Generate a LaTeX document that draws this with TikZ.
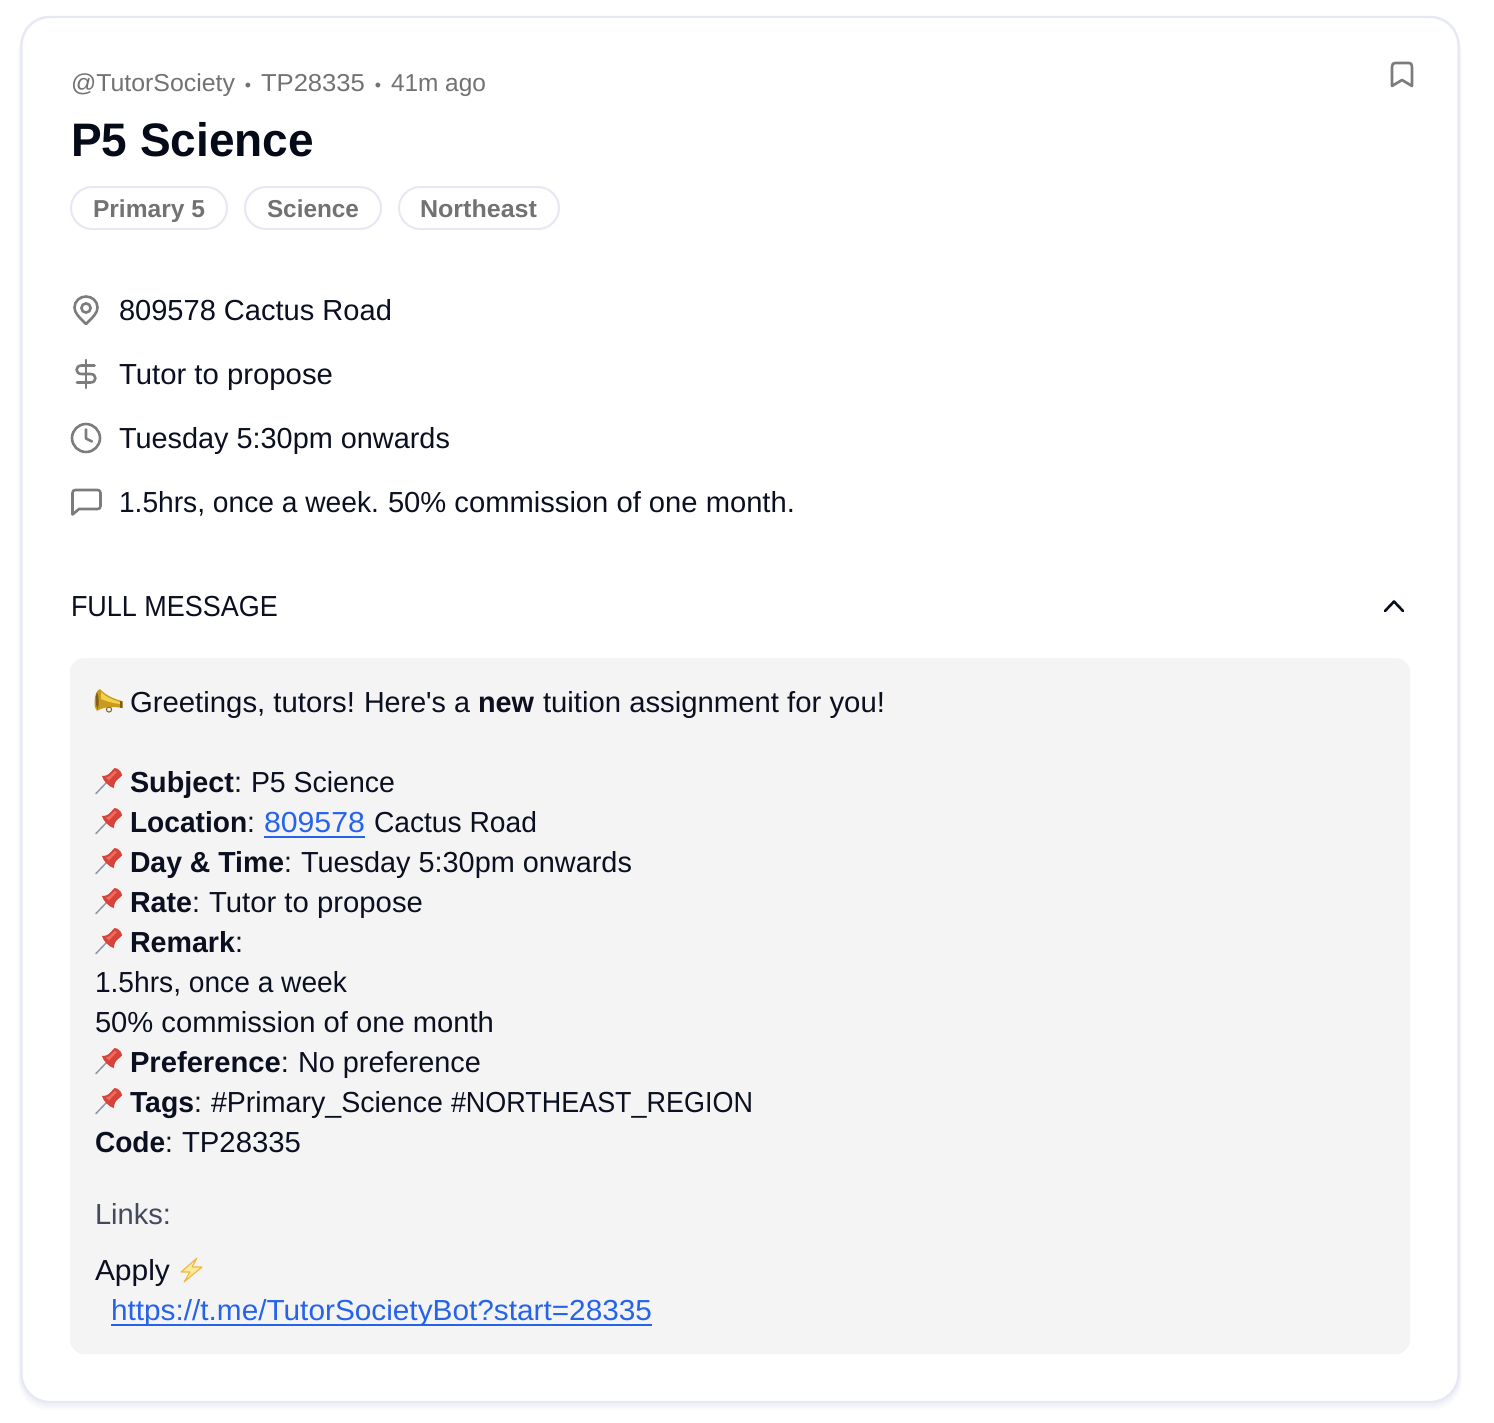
\documentclass[tikz,border=0pt]{standalone}
\usepackage{fontspec}
\setmainfont{Liberation Sans}
\definecolor{ink}{HTML}{0B1020}
\definecolor{titlec}{HTML}{050A18}
\definecolor{muted}{HTML}{727272}
\definecolor{iconc}{HTML}{7C7C7C}
\definecolor{cardline}{HTML}{E6E9F3}
\definecolor{panel}{HTML}{F4F4F5}
\definecolor{linkc}{HTML}{2563EB}
\definecolor{linksc}{HTML}{414B5C}
\definecolor{pinred}{HTML}{D5433B}
\definecolor{pinlight}{HTML}{EF6A5C}
\definecolor{needle}{HTML}{8E98A8}
\definecolor{gold}{HTML}{C99A1E}
\definecolor{goldlight}{HTML}{F2D24C}
\definecolor{golddark}{HTML}{7F5F12}
\definecolor{boltline}{HTML}{F5B63F}
\definecolor{boltfill}{HTML}{FFEB99}
\newsavebox\fwbox
\newcommand\fw[2]{\sbox\fwbox{#2}\pgfmathsetmacro\fwr{(#1)/\the\wd\fwbox}\scalebox{\fwr}[1]{\usebox\fwbox}}
\newcommand\tx[6]{\node[txt,#5] (#1) at (#2,#4) {\fw{#3-#2}{#6}};}
\newcommand\bodyf{\fontsize{29}{34}\selectfont}
\newcommand\smallf{\fontsize{24.5}{30}\selectfont}
\tikzset{
  txt/.style={anchor=base west,inner sep=0pt,outer sep=0pt,text=ink,font=\bodyf},
  hdr/.style={text=muted,font=\smallf},
  chiptxt/.style={text=muted,font=\smallf\bfseries},
  chip/.style={draw=cardline,line width=2pt,fill=white,rounded corners=21pt},
  ico/.style={draw=iconc,line width=2.6pt,line cap=round,line join=round},
  lnk/.style={text=linkc},
  ul/.style={draw=linkc,line width=2pt},
}
\newcommand\pushpin[1]{%
 \begin{scope}[shift={(0,#1)}]
  \draw[needle,line width=1.5pt,line cap=round] (96,793.5) -- (107,782);
  \fill[pinred] (102,776) .. controls (106,776) and (108,775) .. (111,772)
     -- (112.5,770) .. controls (113,768) and (116,767) .. (118,769)
     -- (121,772) .. controls (123,774) and (122,777) .. (120,777.5)
     -- (118,779) .. controls (115,782) and (114,784) .. (114,788)
     .. controls (110,787.5) and (103,781) .. (102,776) -- cycle;
  \fill[pinlight] (106,777.5) .. controls (109,777) and (112,774) .. (114.5,771)
     -- (117,772) .. controls (114,775) and (111,778) .. (109,780.5) -- cycle;
 \end{scope}}
\begin{document}
\begin{tikzpicture}[x=1pt,y=-1pt]
\useasboundingbox (0,0) rectangle (1494,1422);
\fill[white] (0,0) rectangle (1494,1422);
% card shadow
\foreach \d/\o in {4/.04,3/.05,2/.06}{
  \fill[black!40!blue!40,opacity=\o,rounded corners=30pt] (22-\d,22) rectangle (1458+\d,1402+2*\d);
}
\draw[draw=cardline,fill=white,line width=2.4pt,rounded corners=28pt] (21.5,17) rectangle (1458.5,1402);
% header
\tx{meta1}{71}{235}{91}{hdr}{@TutorSociety}
\node[txt,hdr,anchor=base] (dot1) at (248,91) {\fontsize{18}{20}\selectfont •};
\tx{meta2}{261}{365}{91}{hdr}{TP28335}
\node[txt,hdr,anchor=base] (dot2) at (378,91) {\fontsize{18}{20}\selectfont •};
\tx{meta3}{391}{486}{91}{hdr}{41m ago}
\tx{title}{71}{314}{156}{text=titlec,font=\fontsize{47}{52}\selectfont\bfseries}{P5 Science}
% chips
\draw[chip] (71,187) rectangle (227,229);
\draw[chip] (245,187) rectangle (381,229);
\draw[chip] (399,187) rectangle (559,229);
\tx{c1}{93}{205}{217}{chiptxt}{Primary 5}
\tx{c2}{267}{359}{217}{chiptxt}{Science}
\tx{c3}{420}{537}{217}{chiptxt}{Northeast}
% bookmark
\draw[ico] (1392,67) .. controls (1392,64) and (1393,63) .. (1395,63) -- (1409,63)
  .. controls (1411,63) and (1412,64) .. (1412,67) -- (1412,86) -- (1402,80) -- (1392,86) -- cycle;
% info rows
\tx{r1}{119}{392}{320}{}{809578 Cactus Road}
\tx{r2}{119}{333}{384}{}{Tutor to propose}
\tx{r3}{119}{450}{448}{}{Tuesday 5:30pm onwards}
\tx{r4a}{119}{379}{512}{}{1.5hrs, once a week.}
\tx{r4b}{388}{795}{512}{}{50\% commission of one month.}
% location icon
\draw[ico] (86,324) .. controls (79,317) and (74.5,313) .. (74.5,307.5)
  .. controls (74.5,301) and (80,296.5) .. (86,296.5)
  .. controls (92,296.5) and (97.5,301) .. (97.5,307.5)
  .. controls (97.5,313) and (93,317) .. (86,324) -- cycle;
\draw[ico] (86,308) circle (4.6pt);
% dollar icon
\draw[ico] (86,360) -- (86,388);
\draw[ico] (94.5,365.5) -- (81.5,365.5) .. controls (75,365.5) and (75,374) .. (81.5,374)
  -- (90.5,374) .. controls (97,374) and (97,382.5) .. (90.5,382.5) -- (77,382.5);
% clock icon
\draw[ico] (86,438) circle (14pt);
\draw[ico] (86,429.5) -- (86,438.5) -- (92,441.5);
% comment icon
\draw[ico] (72.5,514.5) -- (72.5,493) .. controls (72.5,491) and (73.5,490) .. (75.5,490)
  -- (97.5,490) .. controls (99.5,490) and (100.5,491) .. (100.5,493) -- (100.5,506)
  .. controls (100.5,508) and (99.5,509) .. (97.5,509) -- (79,509) -- cycle;
% full message
\tx{fm}{71}{278}{616}{font=\bodyf}{FULL MESSAGE}
\draw[draw=ink,line width=2.6pt,line cap=round,line join=round] (1385,611) -- (1394,601.5) -- (1403,611);
% panel
\fill[panel,rounded corners=14pt] (70,658) rectangle (1410,1354);
% megaphone
\draw[golddark,line width=1pt] (109,709.5) circle (2.6pt);
\fill[gold] (94.5,702) .. controls (94.5,695) and (97,690) .. (100,689)
   .. controls (105,695) and (114,699) .. (122,701) -- (122,708)
   .. controls (112,706) and (103,707) .. (97,711) .. controls (95,709) and (94.5,706) .. (94.5,702) -- cycle;
\fill[goldlight] (101,692) .. controls (106,697) and (113,700) .. (120,702) -- (120,704)
   .. controls (112,703) and (106,701) .. (101,699) -- cycle;
\fill[golddark] (120,701) -- (122.5,701.5) -- (122.5,708) -- (120,707.5) -- cycle;
\fill[golddark] (97,692) .. controls (95,696) and (95.5,705) .. (97.5,709) .. controls (99.5,705) and (99,696) .. (97,692) -- cycle;
% message lines
\tx{m1a}{130}{355}{712}{}{Greetings, tutors!}
\tx{m1d}{364}{470}{712}{}{Here\textquotesingle s a}
\tx{m1b}{478}{534}{712}{font=\bodyf\bfseries}{new}
\tx{m1c}{543}{885}{712}{}{tuition assignment for you!}
\pushpin{0}
\tx{s1}{130}{242}{792}{}{\textbf{Subject}:}
\tx{s2}{251}{395}{792}{}{P5 Science}
\pushpin{40}
\tx{l1}{130}{255}{832}{}{\textbf{Location}:}
\tx{l2}{264}{365}{832}{lnk}{809578}
\draw[ul] (l2.base west)++(0,4.5) -- ++(101,0);
\tx{l3}{374}{537}{832}{}{Cactus Road}
\pushpin{80}
\tx{d1}{130}{292}{872}{}{\textbf{Day \& Time}:}
\tx{d2}{301}{632}{872}{}{Tuesday 5:30pm onwards}
\pushpin{120}
\tx{ra1}{130}{200}{912}{}{\textbf{Rate}:}
\tx{ra2}{209}{423}{912}{}{Tutor to propose}
\pushpin{160}
\tx{re1}{130}{243}{952}{}{\textbf{Remark}:}
\tx{n1}{95}{347}{992}{}{1.5hrs, once a week}
\tx{n2}{95}{494}{1032}{}{50\% commission of one month}
\pushpin{280}
\tx{p1}{130}{289}{1072}{}{\textbf{Preference}:}
\tx{p2}{298}{481}{1072}{}{No preference}
\pushpin{320}
\tx{t1}{130}{202}{1112}{}{\textbf{Tags}:}
\tx{t2a}{211}{443}{1112}{}{\#Primary\_Science}
\tx{t2b}{451}{753}{1112}{}{\#NORTHEAST\_REGION}
\tx{co1}{95}{173}{1152}{}{\textbf{Code}:}
\tx{co2}{182}{301}{1152}{}{TP28335}
\tx{li}{95}{171}{1224}{text=linksc}{Links:}
\tx{ap}{95}{170}{1280}{}{Apply}
% bolt
\draw[draw=boltline,fill=boltfill,line width=1.1pt,line join=round]
  (197,1258) -- (181,1272) -- (190,1272) -- (184,1282) -- (202,1267) -- (192,1267) -- cycle;
\tx{url}{111}{652}{1320}{lnk}{https://t.me/TutorSocietyBot?start=28335}
\draw[ul] (url.base west)++(0,4.5) -- ++(541,0);
\end{tikzpicture}
\end{document}
